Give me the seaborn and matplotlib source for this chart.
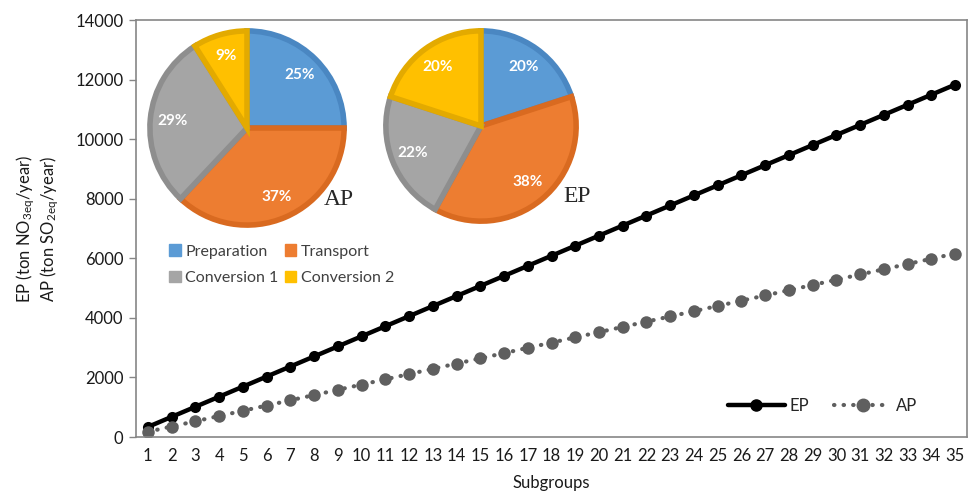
import numpy as np
import pandas as pd
import matplotlib
matplotlib.use("Agg")
import matplotlib.pyplot as plt
import matplotlib.patches as mpatches
from matplotlib.lines import Line2D
import seaborn as sns

# ---- data ----
subgroups = list(range(1, 36))
ep_values = [338, 676, 1014, 1352, 1690, 2028, 2366, 2704, 3042, 3380,
             3718, 4056, 4394, 4732, 5070, 5408, 5746, 6084, 6422, 6760,
             7098, 7436, 7774, 8112, 8450, 8788, 9126, 9464, 9802, 10140,
             10478, 10816, 11154, 11492, 11830]
ap_values = [176, 352, 528, 704, 880, 1056, 1232, 1408, 1584, 1760,
             1936, 2112, 2288, 2464, 2640, 2816, 2992, 3168, 3344, 3520,
             3696, 3872, 4048, 4224, 4400, 4576, 4752, 4928, 5104, 5280,
             5456, 5632, 5808, 5984, 6160]

stages = ["Preparation", "Transport", "Conversion 1", "Conversion 2"]
ap_shares = [25, 37, 29, 9]
ep_shares = [20, 38, 22, 20]
y_ticks = [0, 2000, 4000, 6000, 8000, 10000, 12000, 14000]

stage_colors = ["#5B9BD5", "#ED7D31", "#A5A5A5", "#FFC000"]
stage_edges = ["#4A87C2", "#D96A20", "#8E8E8E", "#E3AA00"]

sns.set_theme(style="white")
plt.rcParams["font.family"] = ["Lato", "DejaVu Sans"]
plt.rcParams["lines.dash_capstyle"] = "round"
plt.rcParams["mathtext.fontset"] = "custom"
plt.rcParams["mathtext.rm"] = "Lato"
plt.rcParams["mathtext.it"] = "Lato"

fig = plt.figure(figsize=(9.74, 5.04), dpi=100)
ax = fig.add_axes([136 / 974, 1 - 437 / 504, (967 - 136) / 974, (437 - 20) / 504])

df = pd.DataFrame({"Subgroup": subgroups, "EP": ep_values, "AP": ap_values})

sns.lineplot(data=df, x="Subgroup", y="EP", ax=ax, color="black", lw=3.2,
             marker="o", markersize=8, markeredgewidth=0, label="EP")
sns.lineplot(data=df, x="Subgroup", y="AP", ax=ax, color="#5F5F5F", lw=3,
             linestyle=(0, (0.1, 2.2)), marker="o", markersize=9,
             markeredgewidth=0, label="AP")

ax.set_xlim(0.5, 35.5)
ax.set_ylim(0, 14000)
ax.set_xticks(subgroups)
ax.set_xticklabels([str(s) for s in subgroups])
ax.set_yticks(y_ticks)
ax.tick_params(axis="x", length=0, labelsize=12, pad=8, colors="#1a1a1a")
ax.tick_params(axis="y", length=5, width=1, color="#868686", direction="out",
               left=True, labelsize=12, pad=4, labelcolor="#1a1a1a")
for sp in ax.spines.values():
    sp.set_color("#868686")
    sp.set_linewidth(1.2)
ax.set_xlabel("Subgroups", fontsize=12, labelpad=8, color="#1a1a1a")
ax.set_ylabel("EP (ton NO$_{3eq}$/year)\nAP (ton SO$_{2eq}$/year)",
              fontsize=12, labelpad=10, color="#1a1a1a", linespacing=1.1)

line_handles = [
    Line2D([0], [0], color="black", lw=3.2, marker="o", markersize=8),
    Line2D([0], [0], color="#5F5F5F", lw=3, linestyle=(0, (0.1, 2.2)),
           marker="o", markersize=9),
]
ax.legend(line_handles, ["EP", "AP"], loc="lower right", ncol=2,
          frameon=False, fontsize=12, handlelength=3.4, columnspacing=1.5,
          handletextpad=0.3, bbox_to_anchor=(0.958, 0.02))


def draw_pie(rect, shares, name, name_xy):
    pax = fig.add_axes(rect)
    wedges, _, autotexts = pax.pie(
        shares, colors=stage_colors, startangle=90, counterclock=False,
        autopct="%.0f%%", pctdistance=0.77,
        wedgeprops=dict(linewidth=4, joinstyle="miter"),
        textprops=dict(color="white", fontsize=11, fontweight="bold"))
    for w, ec in zip(wedges, stage_edges):
        w.set_edgecolor(ec)
    pax.set_xlim(-1.03, 1.03)
    pax.set_ylim(-1.03, 1.03)
    pax.set_aspect("equal")
    pax.axis("off")
    fig.text(name_xy[0] / 974, 1 - name_xy[1] / 504, name,
             family=["Liberation Serif"], fontsize=17, ha="left", va="center")
    return pax


draw_pie([147 / 974, 1 - 228 / 504, 200 / 974, 200 / 504], ap_shares, "AP", (324, 200))
draw_pie([383 / 974, 1 - 224 / 504, 196 / 974, 196 / 504], ep_shares, "EP", (563, 196))

# legend fills column-wise, so order handles to read row by row
order = [0, 2, 1, 3]
stage_handles = [mpatches.Patch(color=stage_colors[i]) for i in order]
fig.legend(stage_handles, [stages[i] for i in order], ncol=2, frameon=False,
           fontsize=11.5, loc="upper left", bbox_to_anchor=(155 / 974, 1 - 230 / 504),
           handlelength=0.7, handleheight=0.7, handletextpad=0.3,
           columnspacing=0.4, labelspacing=0.75, labelcolor="#404040")

fig.savefig("out.png", dpi=100)
